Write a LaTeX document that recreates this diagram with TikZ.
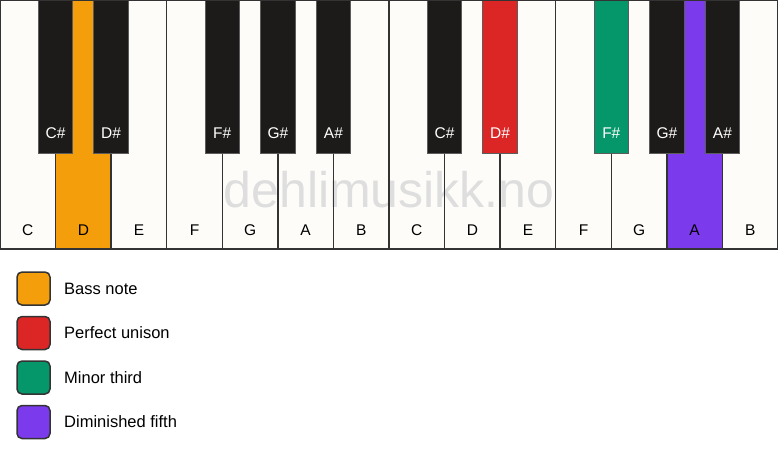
\documentclass[tikz,border=0pt]{standalone}
\usepackage{fontspec}
\setmainfont{Liberation Sans}
\definecolor{keywhite}{HTML}{FDFCF9}
\definecolor{keyblack}{HTML}{1C1B19}
\definecolor{edge}{HTML}{333333}
\definecolor{bass}{HTML}{F59E0B}
\definecolor{unison}{HTML}{DC2626}
\definecolor{minthird}{HTML}{059669}
\definecolor{dimfifth}{HTML}{7C3AED}
\definecolor{wmark}{HTML}{DEDEDE}
\begin{document}
\begin{tikzpicture}[x=1pt,y=-1pt,
  whitekey/.style={rectangle,minimum width=55.571pt,minimum height=249pt,inner sep=0pt,outer sep=0pt},
  keyedge/.style={draw=edge,line width=1.5pt},
  blackkey/.style={rectangle,draw=edge!80,line width=1pt,minimum width=34.5pt,minimum height=153pt,inner sep=0pt,outer sep=0pt},
  wlabel/.style={inner sep=0pt,font=\fontsize{15.5}{18}\selectfont,text=black},
  blabel/.style={inner sep=0pt,font=\fontsize{15.5}{18}\selectfont,text=white},
  legbox/.style={rectangle,rounded corners=5pt,draw=edge,line width=1.5pt,minimum width=33pt,minimum height=33pt,inner sep=0pt},
  legtext/.style={anchor=west,inner sep=0pt,font=\fontsize{16.5}{20}\selectfont,text=black},
  watermark/.style={anchor=base,inner sep=0pt,font=\fontsize{50}{60}\selectfont,text=wmark}
]
\useasboundingbox (0,0) rectangle (778,461);
\fill[white] (0,0) rectangle (778,461);
% white key fills
\foreach \i/\c in {0/keywhite,1/bass,2/keywhite,3/keywhite,4/keywhite,5/keywhite,6/keywhite,
  7/keywhite,8/keywhite,9/keywhite,10/keywhite,11/keywhite,12/dimfifth,13/keywhite}{
  \node[whitekey,fill=\c] (w\i) at ({(\i+0.5)*55.5714},124.5) {};
}
% watermark (behind key outlines)
\node[watermark] (wm) at (389,207.5) {dehlimusikk.no};
% white key outlines and labels
\foreach \i/\n in {0/C,1/D,2/E,3/F,4/G,5/A,6/B,7/C,8/D,9/E,10/F,11/G,12/A,13/B}{
  \draw[keyedge] (w\i.north west) rectangle (w\i.south east);
  \node[wlabel] (wl\i) at ({(\i+0.5)*55.5714},230) {\n};
}
% black keys
\foreach \b/\n/\c in {1/C\#/keyblack,2/D\#/keyblack,4/F\#/keyblack,5/G\#/keyblack,6/A\#/keyblack,
  8/C\#/keyblack,9/D\#/unison,11/F\#/minthird,12/G\#/keyblack,13/A\#/keyblack}{
  \node[blackkey,fill=\c] (b\b) at ({\b*55.5714},76.5) {};
  \node[blabel] (bl\b) at ({\b*55.5714},133) {\n};
}
% top edge of keyboard
\draw[keyedge] (w0.north west) -- (w13.north east);
% legend
\node[legbox,fill=bass] (l1) at (33.5,288.5) {};
\node[legtext] (t1) at (64,288.5) {Bass note};
\node[legbox,fill=unison] (l2) at (33.5,333) {};
\node[legtext] (t2) at (64,333) {Perfect unison};
\node[legbox,fill=minthird] (l3) at (33.5,377.5) {};
\node[legtext] (t3) at (64,377.5) {Minor third};
\node[legbox,fill=dimfifth] (l4) at (33.5,422) {};
\node[legtext] (t4) at (64,422) {Diminished fifth};
\end{tikzpicture}
\end{document}
